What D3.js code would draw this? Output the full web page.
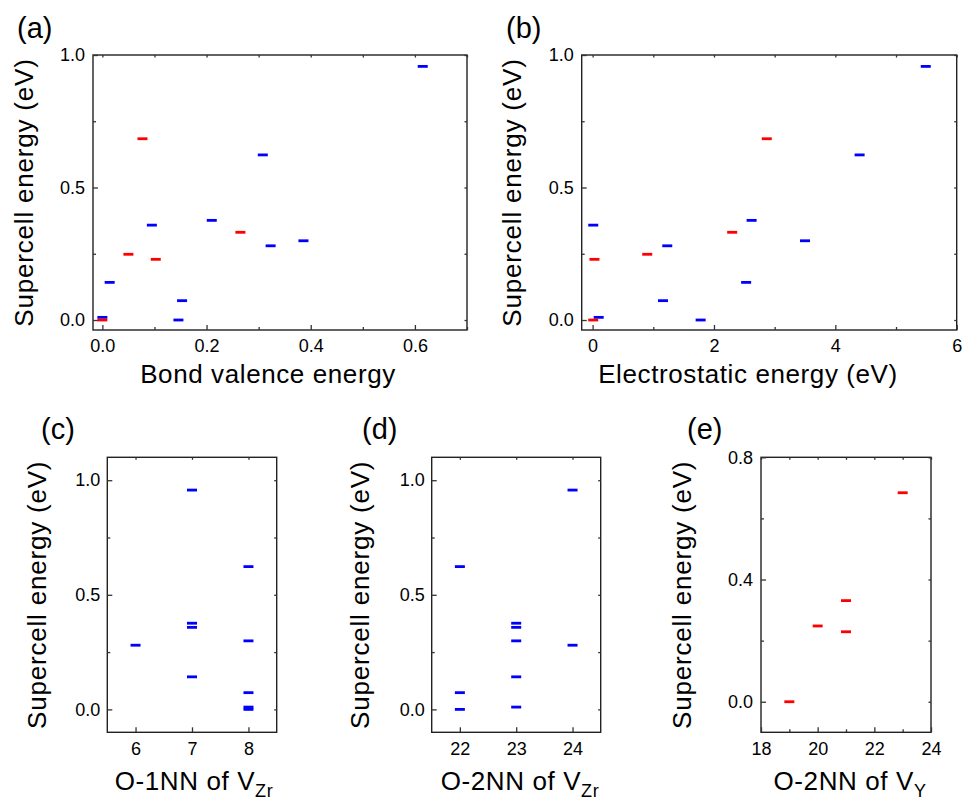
<!DOCTYPE html>
<html>
<head>
<meta charset="utf-8">
<script src="https://cdn.jsdelivr.net/npm/d3@7"></script>
<style>
  body { margin: 0; background: #fff; }
  svg { font-family: "Liberation Sans", Arial, sans-serif; }
  .tick text { fill: #000; }
</style>
</head>
<body>
<svg id="fig" width="962" height="800"></svg>
<script>
// supercell energies (eV), blue = V_Zr configs, red = V_Y configs
var blueEnergy        = [0.000, 0.010, 0.073, 0.142, 0.280, 0.299, 0.358, 0.376, 0.623, 0.957];
var blueBondValence   = [0.146, 0.000, 0.153, 0.014, 0.323, 0.386, 0.095, 0.210, 0.308, 0.615];
var blueElectrostatic = [1.78, 0.10, 1.16, 2.53, 1.23, 3.50, 0.01, 2.62, 4.40, 5.49];
var blueO1NN          = [8, 8, 8, 7, 6, 8, 7, 7, 8, 7];
var blueO2NN          = [22, 23, 22, 23, 24, 23, 23, 23, 22, 24];

var redEnergy        = [0.000, 0.229, 0.248, 0.331, 0.684];
var redBondValence   = [0.000, 0.1025, 0.050, 0.265, 0.077];
var redElectrostatic = [0.01, 0.03, 0.90, 2.30, 2.87];
var redO2NN          = [19, 21, 20, 21, 23];

// ticks
var energyTicks = [0, 0.5, 1.0], energyMinor = [0.25, 0.75];
var eYTicks = [0, 0.4, 0.8], eYMinor = [0.2, 0.6];
var aXTicks = [0, 0.2, 0.4, 0.6], aXMinor = [0.1, 0.3, 0.5, 0.7];
var bXTicks = [0, 2, 4, 6], bXMinor = [1, 3, 5];
var cXTicks = [6, 7, 8];
var dXTicks = [22, 23, 24];
var eXTicks = [18, 20, 22, 24], eXMinor = [19, 21, 23];

var svg = d3.select("#fig");
var BLUE = "#0000ff", RED = "#ff0000";

function zip(xs, ys) { return xs.map(function(x, i) { return [x, ys[i]]; }); }

function drawPanel(p) {
  var g = svg.append("g");
  var x = d3.scaleLinear().domain(p.xDomain).range([p.x0, p.x1]);
  var y = d3.scaleLinear().domain(p.yDomain).range([p.y1, p.y0]);

  // frame
  g.append("rect")
    .attr("x", p.x0).attr("y", p.y0)
    .attr("width", p.x1 - p.x0).attr("height", p.y1 - p.y0)
    .attr("fill", "none").attr("stroke", "#222").attr("stroke-width", 1.4);

  function axis(gen, scale, vals, size, fmt, tx, ty, pad, fs) {
    var a = gen(scale).tickValues(vals).tickSizeInner(-size).tickSizeOuter(0)
      .tickPadding(pad).tickFormat(fmt);
    var ax = g.append("g").attr("transform", "translate(" + tx + "," + ty + ")").call(a);
    ax.select(".domain").remove();
    ax.selectAll("line").attr("stroke", "#333").attr("stroke-width", 1.3);
    ax.selectAll("text").style("font-size", fs + "px");
    return ax;
  }
  var none = function() { return ""; };
  // bottom / left major + minor
  axis(d3.axisBottom, x, p.xTicks, 5, p.xFmt, 0, p.y1, p.xPad, p.tickFs);
  if (p.xMinor) axis(d3.axisBottom, x, p.xMinor, 3, none, 0, p.y1, 0, 1);
  axis(d3.axisLeft, y, p.yTicks, 5, p.yFmt, p.x0, 0, p.yPad, p.tickFs);
  axis(d3.axisLeft, y, p.yMinor, 3, none, p.x0, 0, 0, 1);
  // mirror ticks on top / right
  axis(d3.axisTop, x, p.xTicks.concat(p.xMinor || []), 2.5, none, 0, p.y0, 0, 1);
  axis(d3.axisRight, y, p.yTicks.concat(p.yMinor), 2.5, none, p.x1, 0, 0, 1);

  // markers: short horizontal dashes
  p.series.forEach(function(s) {
    g.selectAll(null).data(s.points).enter().append("rect")
      .attr("x", function(d) { return x(d[0]) - 5; })
      .attr("y", function(d) { return y(d[1]) - 1.4; })
      .attr("width", 10).attr("height", 2.8)
      .attr("fill", s.color);
  });

  // x title (with optional subscript)
  var xt = g.append("text")
    .attr("x", p.xTitleX).attr("y", p.xTitleY)
    .attr("text-anchor", "middle")
    .style("font-size", "26px").style("letter-spacing", "0.6px");
  xt.append("tspan").text(p.xTitle);
  if (p.xSub) {
    xt.append("tspan").attr("dy", 7).style("font-size", "18px").text(p.xSub);
  }

  // y title
  g.append("text")
    .attr("transform", "translate(" + p.yTitleX + "," + ((p.y0 + p.y1) / 2) + ") rotate(-90)")
    .attr("text-anchor", "middle")
    .style("font-size", "26px").style("letter-spacing", "0.8px")
    .text("Supercell energy (eV)");

  // panel letter
  g.append("text")
    .attr("x", p.labelX).attr("y", p.labelY)
    .style("font-size", "29px")
    .text(p.label);
}

var f1 = d3.format(".1f");

drawPanel({
  label: "(a)", labelX: 17, labelY: 38,
  x0: 93, x1: 467, y0: 55, y1: 330,
  xDomain: [-0.018, 0.70], yDomain: [-0.0377, 1.0],
  xTicks: aXTicks, xMinor: aXMinor, xFmt: f1, xPad: 9,
  yTicks: energyTicks, yMinor: energyMinor, yFmt: f1, yPad: 8,
  tickFs: 18,
  xTitle: "Bond valence energy", xTitleX: 268, xTitleY: 383,
  yTitleX: 33,
  series: [
    { color: BLUE, points: zip(blueBondValence, blueEnergy) },
    { color: RED, points: zip(redBondValence, redEnergy) }
  ]
});

drawPanel({
  label: "(b)", labelX: 506, labelY: 38,
  x0: 581.7, x1: 956.7, y0: 55, y1: 330,
  xDomain: [-0.18, 6.0], yDomain: [-0.0377, 1.0],
  xTicks: bXTicks, xMinor: bXMinor, xFmt: d3.format("d"), xPad: 9,
  yTicks: energyTicks, yMinor: energyMinor, yFmt: f1, yPad: 8,
  tickFs: 18,
  xTitle: "Electrostatic energy (eV)", xTitleX: 748, xTitleY: 383,
  yTitleX: 521,
  series: [
    { color: BLUE, points: zip(blueElectrostatic, blueEnergy) },
    { color: RED, points: zip(redElectrostatic, redEnergy) }
  ]
});

drawPanel({
  label: "(c)", labelX: 41, labelY: 439,
  x0: 107.3, x1: 276.7, y0: 457.3, y1: 732.3,
  xDomain: [5.5, 8.5], yDomain: [-0.1, 1.1],
  xTicks: cXTicks, xMinor: null, xFmt: d3.format("d"), xPad: 10,
  yTicks: energyTicks, yMinor: energyMinor, yFmt: f1, yPad: 7,
  tickFs: 18,
  xTitle: "O-1NN of V", xSub: "Zr", xTitleX: 194, xTitleY: 790,
  yTitleX: 46,
  series: [ { color: BLUE, points: zip(blueO1NN, blueEnergy) } ]
});

drawPanel({
  label: "(d)", labelX: 362, labelY: 439,
  x0: 431.7, x1: 600.7, y0: 457.3, y1: 732.3,
  xDomain: [21.5, 24.5], yDomain: [-0.1, 1.1],
  xTicks: dXTicks, xMinor: null, xFmt: d3.format("d"), xPad: 10,
  yTicks: energyTicks, yMinor: energyMinor, yFmt: f1, yPad: 7,
  tickFs: 18,
  xTitle: "O-2NN of V", xSub: "Zr", xTitleX: 520, xTitleY: 790,
  yTitleX: 369,
  series: [ { color: BLUE, points: zip(blueO2NN, blueEnergy) } ]
});

drawPanel({
  label: "(e)", labelX: 687, labelY: 439,
  x0: 761, x1: 931, y0: 457.3, y1: 732.3,
  xDomain: [18, 24], yDomain: [-0.1, 0.8],
  xTicks: eXTicks, xMinor: eXMinor, xFmt: d3.format("d"), xPad: 10,
  yTicks: eYTicks, yMinor: eYMinor, yFmt: f1, yPad: 8,
  tickFs: 18,
  xTitle: "O-2NN of V", xSub: "Y", xTitleX: 850, xTitleY: 790,
  yTitleX: 691,
  series: [ { color: RED, points: zip(redO2NN, redEnergy) } ]
});
</script>
</body>
</html>
